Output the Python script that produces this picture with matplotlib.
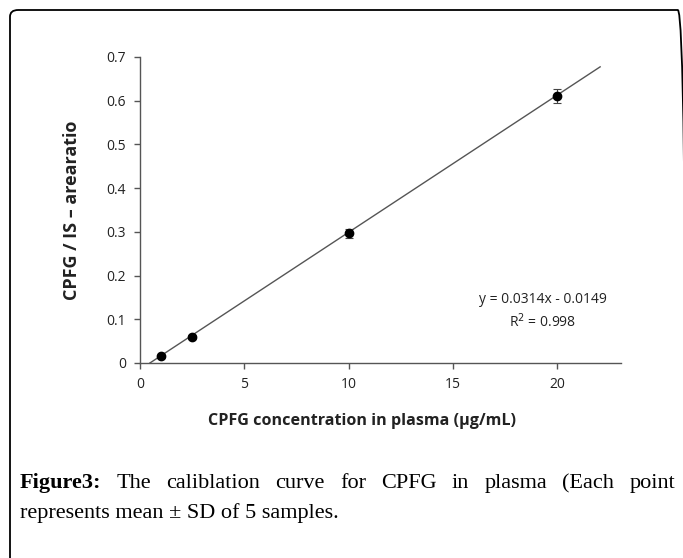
import numpy as np
import matplotlib
matplotlib.use("Agg")
from matplotlib import pyplot as plt
from matplotlib.patches import FancyBboxPatch

# calibration data (mean and SD)
conc = [1, 2.5, 10, 20]
ratio = [0.015, 0.060, 0.297, 0.610]
sd = [0.003, 0.004, 0.010, 0.016]

slope = 0.0314
intercept = -0.0149
r2 = 0.998
x_fit_end = 22.05

W, H = 683, 558
fig = plt.figure(figsize=(W / 100, H / 100), dpi=100)

# rounded border round the figure (right and bottom run off the page)
frame = FancyBboxPatch((10 / W, 1 - 600 / H), 676 / W, 590 / H,
                       boxstyle="round,pad=0,rounding_size=0.012",
                       transform=fig.transFigure, fill=False,
                       edgecolor="black", linewidth=1.3)
fig.patches.append(frame)

ax = fig.add_axes([140 / W, 1 - 363 / H, 481 / W, 306 / H])
sans = "Open Sans"

x0 = -intercept / slope
xf = np.array([x0, x_fit_end])
ax.plot(xf, slope * xf + intercept, color="#555555", linewidth=1.0)
ax.errorbar(conc, ratio, yerr=sd, fmt="o", color="black", markersize=6,
            ecolor="#444444", elinewidth=0.8, capsize=3, capthick=0.8)

ax.set_xlim(0, 23.05)
ax.set_ylim(0, 0.7)
ax.set_xticks([0, 5, 10, 15, 20])
ax.set_yticks(np.arange(0, 0.71, 0.1))
ax.set_yticklabels(["0"] + ["%.1f" % v for v in np.arange(0.1, 0.71, 0.1)])

for s in ["top", "right"]:
    ax.spines[s].set_visible(False)
for s in ["left", "bottom"]:
    ax.spines[s].set_color("#555555")
    ax.spines[s].set_linewidth(1.0)
ax.tick_params(direction="out", length=4, width=1.0, color="#555555",
               labelsize=10, labelcolor="#222222", pad=6)
for lab in ax.get_xticklabels() + ax.get_yticklabels():
    lab.set_family(sans)

ax.text(0.838, 0.206, "y = 0.0314x - 0.0149", transform=ax.transAxes,
        ha="center", va="center", fontsize=10, family=sans, color="#222222")
ax.text(0.838, 0.134, "R$^2$ = %.3f" % r2, transform=ax.transAxes,
        ha="center", va="center", fontsize=10, family=sans, color="#222222")

fig.text(362 / W, 1 - 421 / H, "CPFG concentration in plasma (\u00b5g/mL)",
         ha="center", va="center", fontsize=11.6, fontweight="bold",
         family=sans, color="#222222")
fig.text(72 / W, 1 - 210 / H, "CPFG / IS \u2013 arearatio", rotation=90,
         ha="center", va="center", fontsize=13, fontweight="bold",
         family=sans, color="#222222")

# caption, first line justified between the margins
serif = "Liberation Serif"
cap_size = 16
words = ["Figure3:", "The", "caliblation", "curve", "for", "CPFG", "in",
         "plasma", "(Each", "point"]
renderer = fig.canvas.get_renderer()
widths = []
objs = []
for i, w in enumerate(words):
    t = fig.text(0, 1 - 488 / H, w, ha="left", va="baseline", fontsize=cap_size,
                 family=serif, fontweight="bold" if i == 0 else "normal")
    objs.append(t)
    widths.append(t.get_window_extent(renderer).width)
left, right = 20, 675
gap = (right - left - sum(widths)) / (len(words) - 1)
xpos = left
for t, wd in zip(objs, widths):
    t.set_x(xpos / W)
    xpos += wd + gap
fig.text(20 / W, 1 - 518 / H, "represents mean \u00b1 SD of 5 samples.",
         ha="left", va="baseline", fontsize=cap_size, family=serif)

fig.savefig("out.png", dpi=100)
